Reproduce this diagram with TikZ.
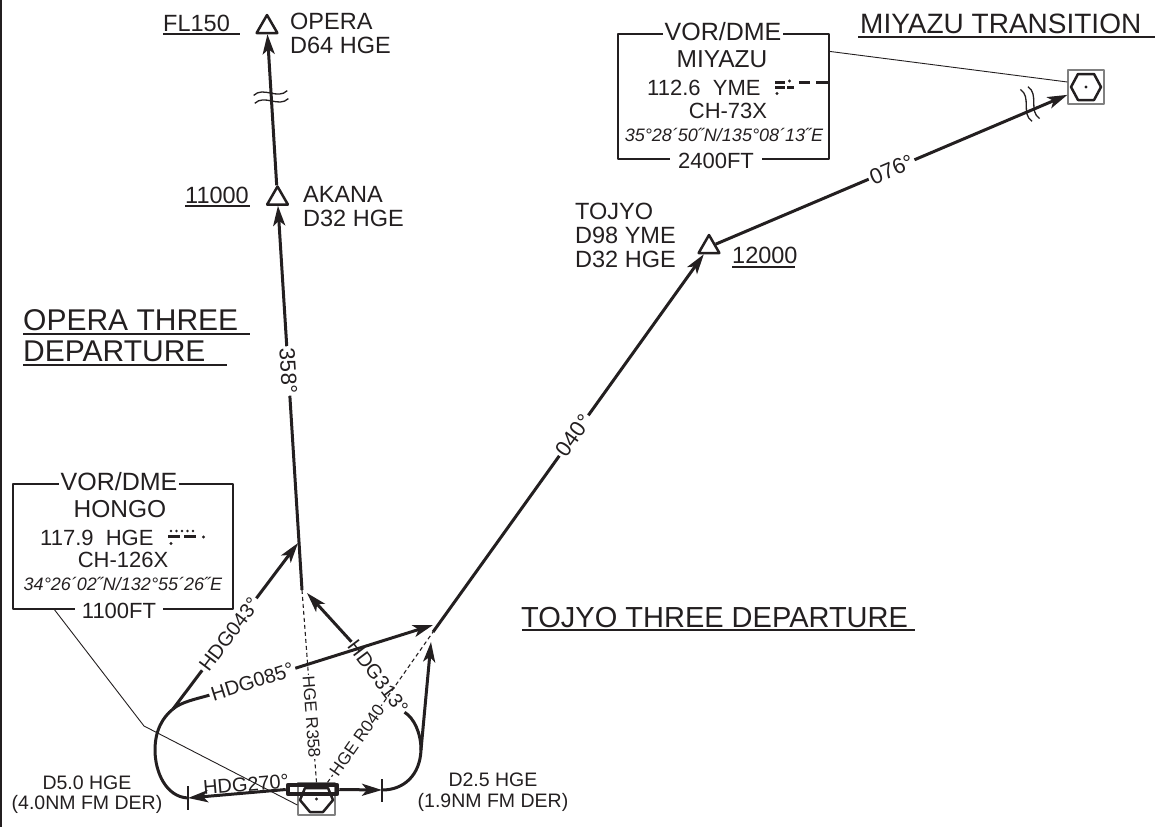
\documentclass[tikz,border=0pt]{standalone}
\usepackage{fontspec}
\setmainfont{Liberation Sans}
\usepackage{tikz}
\usetikzlibrary{arrows.meta, shapes.geometric}

\definecolor{ink}{RGB}{35,31,32}
% two little waves across a track that is not to scale
\newcommand{\brkmark}[2]{\draw[draw = ink, line width = 1.3pt, shift = {#1}, rotate = #2] (-17,-4) .. controls (-6,-12) and (6,4) .. (17,-4) (-17,4) .. controls (-6,-4) and (6,12) .. (17,4);}

\begin{document}
\begin{tikzpicture}[x = 1pt, y = -1pt, line join = round,
	trk/.style = {draw = ink, line width = 3pt},
	arr/.style = {trk, -{Stealth[length = 20pt, width = 12pt, inset = 5pt]}},
	fine/.style = {draw = ink, line width = 1.1pt},
	radial/.style = {draw = ink, line width = 1.1pt, dash pattern = on 4pt off 3pt},
	uline/.style = {draw = ink, line width = 1.6pt},
	wpt/.style = {regular polygon, regular polygon sides = 3, draw = ink, line width = 2.5pt, inner sep = 0pt, minimum size = 24pt},
	navaid/.style = {draw = gray, line width = 1.2pt, inner sep = 0pt, minimum width = 36pt, minimum height = 33pt},
	hexa/.style = {draw = ink, line width = 2.5pt},
	infobox/.style = {draw = ink, line width = 1.2pt, inner sep = 0pt, minimum width = 215pt, minimum height = 125pt},
	txt/.style = {text = ink, inner sep = 0pt, align = left, font = \fontsize{23.5}{24}\selectfont},
	ttl/.style = {text = ink, inner sep = 0pt, align = left, font = \fontsize{30}{31}\selectfont},
	dist/.style = {text = ink, inner sep = 0pt, align = center, font = \fontsize{19.5}{20.5}\selectfont},
	hdg/.style = {text = ink, fill = white, inner sep = 2pt, font = \fontsize{20}{20}\selectfont},
	crs/.style = {text = ink, fill = white, inner sep = 2pt, font = \fontsize{22}{22}\selectfont},
	rad/.style = {text = ink, fill = white, inner sep = 1pt, font = \fontsize{17}{17}\selectfont},
	boxhead/.style = {text = ink, fill = white, inner xsep = 2pt, inner ysep = 0pt, font = \fontsize{25}{25}\selectfont},
	boxline/.style = {text = ink, inner sep = 0pt, font = \fontsize{22}{22}\selectfont},
	boxpos/.style = {text = ink, inner sep = 0pt, font = \fontsize{18}{18}\selectfont\itshape}]

	\useasboundingbox (0,0) rectangle (1155,827);
	\draw[draw = ink, line width = 2pt] (1,0) -- (1,827);

	% navaids and fixes
	\node (hongo) at (316.5,799) [navaid, minimum width = 37pt, minimum height = 32pt] {};
	\node (miyazu) at (1086,87) [navaid, minimum height = 34pt] {};
	\draw[hexa, shift = {(hongo.center)}] (-16.5,1) -- (-11.5,-11) -- (11.5,-11) -- (16.5,1) -- (6.5,13) -- (-6.5,13) -- cycle;
	\draw[hexa, shift = {(miyazu.center)}] (-15,0) -- (-8,-13) -- (8,-13) -- (15,0) -- (8,13) -- (-8,13) -- cycle;
	\fill[ink] (hongo.center) circle (1.6pt);
	\fill[ink] (miyazu.center) circle (1.6pt);
	\node (opera) at (267,27) [wpt] {};
	\node (akana) at (277.5,198.5) [wpt] {};
	\node (tojyo) at (709,247) [wpt] {};

	\coordinate (dL) at (188,798);
	\coordinate (dR) at (382,790);
	\coordinate (lsplit) at (173,709);
	\coordinate (rsplit) at (421,750);
	\coordinate (op0) at (302,590);
	\coordinate (t043) at (298,543);
	\coordinate (t085) at (433,625);
	\coordinate (t313) at (307,593);
	\coordinate (st040) at (433,632);
	\coordinate (tup) at (431,642);

	% radials from HGE
	\draw[radial] (hongo.north) -- node[rad, sloped, pos = .34] {HGE R358} (op0);
	\draw[radial] ([xshift = 11pt]hongo.north) -- node[rad, sloped, pos = .28] {HGE R040} (st040);

	\node (rwy) at (312.5,789.5) [draw = ink, line width = 4.5pt, inner sep = 0pt, minimum width = 49pt, minimum height = 9pt] {};

	% initial legs
	\draw[arr] (rwy.east) -- (dR);
	\draw[arr] (rwy.west) -- node[hdg, fill = none, above = -2pt, sloped, pos = .4] {HDG270°} (dL);
	\draw[fine] ([yshift = 12pt]dL) -- ([yshift = -12pt]dL);
	\draw[fine] ([yshift = 11pt]dR) -- ([yshift = -12pt]dR);

	% left turn
	\draw[trk] (dL) .. controls (166,797) and (155,772) .. (155,750) .. controls (155,730) and (163,717) .. (lsplit);
	\draw[arr] (lsplit) -- node[hdg, sloped, pos = .45] {HDG043°} (t043);
	\draw[arr] (lsplit) .. controls (181,702) and (196,699) .. (210,695) -- node[hdg, sloped, pos = .19] {HDG085°} (t085);

	% right turn
	\node (l313) at (378,677) [hdg, fill = none, inner sep = 1pt, rotate = -53] {HDG313°};
	\draw[trk] (dR) .. controls (404,790) and (420,775) .. (rsplit);
	\draw[arr] (rsplit) -- (tup);
	\draw[trk] (rsplit) .. controls (421,733) and (414,718) .. (l313.east);
	\draw[arr] (l313.west) -- (t313);

	% en-route
	\draw[arr] (op0) -- node[crs, sloped, pos = .57] {358°} (akana);
	\draw[arr] (akana) -- (opera);
	\draw[arr] (st040) -- node[crs, sloped, pos = .52] {040°} (tojyo);
	\draw[arr] (tojyo) -- node[crs, sloped, pos = .5] {076°} (miyazu);
	\brkmark{(271,97)}{8}
	\brkmark{(1030,104)}{110}

	% info boxes
	\node (hongobox) at (123,546.5) [infobox, minimum width = 220pt] {};
	\node (miyazubox) at (723.5,96.5) [infobox, minimum width = 211pt] {};
	\coordinate (hbend) at (144,726);
	\draw[fine, line width = .9pt] ([xshift = 42pt]hongobox.south west) -- (hbend) -- ([yshift = -6pt]hongo.west);
	\draw[fine, line width = .9pt] ([yshift = -18pt]miyazubox.north east) -- ([yshift = 5pt]miyazu.west);

	\node (hvor) at (119,490) [boxhead, anchor = base] {VOR/DME};
	\node (hname) at (120,517) [boxhead, fill = none, font = \fontsize{24.5}{25}\selectfont, anchor = base] {HONGO};
	\node (hfreq) at (40,545) [boxline, anchor = base west] {117.9~ HGE};
	\node (hch) at (123,567) [boxline, anchor = base] {CH-126X};
	\node (hpos) at (123,590) [boxpos, anchor = base] {34°26´02˝N/132°55´26˝E};
	\node (helev) at (119,618) [boxline, fill = white, inner xsep = 7pt, anchor = base] {1100FT};
	\foreach \x in {171,176.5,182,187.5,193} \fill[ink] (\x,531) circle (1.4pt);
	\fill[ink] (168,535) rectangle (180,538);
	\fill[ink] (184,535) rectangle (196,538);
	\fill[ink] (171,543.5) circle (1.6pt);
	\fill[ink] (203.5,537) circle (1.6pt);

	\node (mvor) at (723,40) [boxhead, anchor = base] {VOR/DME};
	\node (mname) at (722,67) [boxhead, fill = none, font = \fontsize{24.5}{25}\selectfont, anchor = base] {MIYAZU};
	\node (mfreq) at (647,95) [boxline, anchor = base west] {112.6~ YME};
	\node (mch) at (728,118) [boxline, anchor = base] {CH-73X};
	\node (mpos) at (724,141) [boxpos, anchor = base] {35°28´50˝N/135°08´13˝E};
	\node (melev) at (716,168) [boxline, fill = white, inner xsep = 8pt, anchor = base] {2400FT};
	\fill[ink] (775,80.5) rectangle (785,83.5);
	\fill[ink] (775,85.5) rectangle (785,88.5);
	\fill[ink] (777,93.5) circle (1.6pt);
	\fill[ink] (789.5,81) circle (1.6pt);
	\fill[ink] (787,85.5) rectangle (794,88.5);
	\fill[ink] (799,80.5) rectangle (810,83.5);
	\fill[ink] (816,80.5) rectangle (829,83.5);

	% fix names and altitudes
	\node (fl) at (163,31) [txt, anchor = base west] {FL150};
	\draw[uline] ([yshift = -3pt]fl.base west) -- ++(77,0);
	\node (operalbl) at (290,33) [txt, anchor = west] {OPERA\\D64 HGE};
	\node (alt11) at (185,203) [txt, anchor = base west] {11000};
	\draw[uline] ([yshift = -3pt]alt11.base west) -- ++(65,0);
	\node (akanalbl) at (303,206.5) [txt, anchor = west] {AKANA\\D32 HGE};
	\node (tojyolbl) at (575,235) [txt, anchor = west] {TOJYO\\D98 YME\\D32 HGE};
	\node (alt12) at (732,263) [txt, anchor = base west] {12000};
	\draw[uline] ([yshift = -4pt]alt12.base west) -- ++(63,0);
	\node (dLtxt) at (87,794.5) [dist] {D5.0 HGE\\(4.0NM FM DER)};
	\node (dRtxt) at (493,792) [dist] {D2.5 HGE\\(1.9NM FM DER)};

	% procedure titles
	\node (operattl) at (23,336) [ttl, anchor = west] {OPERA THREE\\DEPARTURE};
	\draw[uline] ([yshift = 2pt]operattl.west) -- ++(227,0);
	\draw[uline] ([yshift = -29pt]operattl.west) -- ++(204,0);
	\node (tojyottl) at (521,627) [ttl, font = \fontsize{29}{30}\selectfont, anchor = base west] {TOJYO THREE DEPARTURE};
	\draw[uline] ([xshift = 1pt, yshift = -3pt]tojyottl.base west) -- ++(393,0);
	\node (miyttl) at (860,33) [ttl, font = \fontsize{28}{28}\selectfont, anchor = base west] {MIYAZU TRANSITION};
	\draw[uline] ([xshift = -2pt, yshift = -4pt]miyttl.base west) -- ++(297,0);
\end{tikzpicture}
\end{document}
